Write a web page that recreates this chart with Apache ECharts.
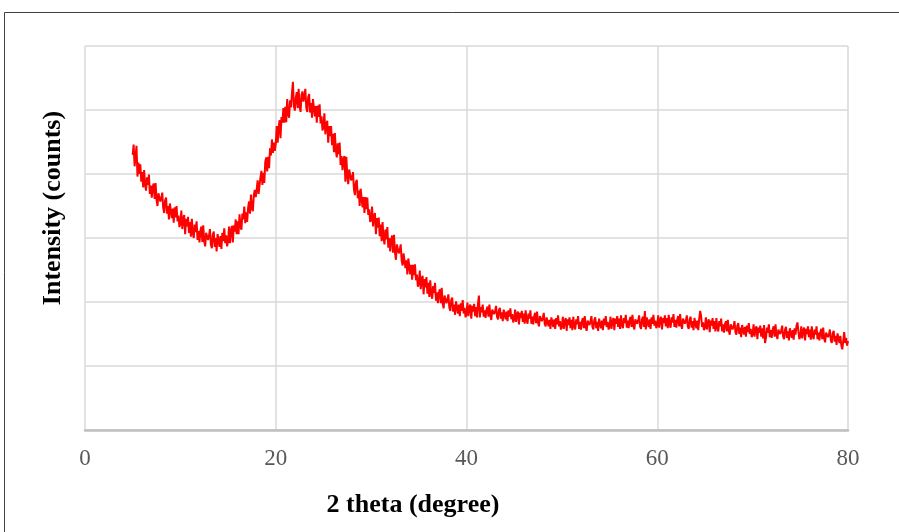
<!DOCTYPE html>
<html>
<head>
<meta charset="utf-8">
<script src="https://cdn.jsdelivr.net/npm/echarts@6/dist/echarts.min.js"></script>
<style>
  html, body { margin: 0; padding: 0; background: #ffffff; }
  #chart { width: 899px; height: 532px; }
</style>
</head>
<body>
<div id="chart"></div>
<script>
// XRD scan: 2θ from 5° to 80° in 0.1° steps
const thetaStart = 5;
const thetaStep = 0.1;

// Measured intensity (counts), one row per degree
const counts = [
  430, 446, 412, 426, 444, 396, 418, 400, 415, 388,
  403, 379, 406, 383, 374, 395, 383, 399, 369, 382,
  363, 380, 385, 361, 386, 360, 350, 370, 373, 357,
  362, 371, 347, 339, 359, 363, 338, 350, 329, 354,
  356, 331, 346, 324, 348, 332, 350, 326, 335, 317,
  323, 343, 314, 330, 336, 306, 330, 318, 333, 308,
  325, 302, 330, 308, 300, 321, 309, 326, 297, 311,
  293, 311, 318, 294, 320, 295, 287, 308, 311, 297,
  303, 314, 290, 284, 305, 310, 286, 300, 279, 306,
  309, 286, 303, 283, 308, 295, 315, 292, 304, 287,
  295, 318, 292, 311, 319, 293, 320, 310, 329, 306,
  326, 306, 337, 318, 313, 338, 329, 349, 323, 340,
  325, 347, 357, 338, 368, 347, 342, 367, 375, 364,
  375, 390, 369, 368, 395, 405, 383, 402, 386, 419,
  426, 404, 427, 409, 440, 429, 454, 433, 449, 436,
  447, 475, 449, 472, 484, 456, 489, 480, 503, 480,
  505, 481, 517, 494, 488, 515, 504, 527, 544, 506,
  499, 519, 528, 503, 533, 507, 497, 523, 529, 513,
  521, 533, 504, 497, 520, 525, 496, 511, 488, 517,
  519, 490, 506, 480, 507, 489, 509, 479, 490, 468,
  474, 495, 462, 478, 483, 449, 475, 459, 475, 445,
  463, 434, 464, 437, 426, 448, 431, 449, 414, 428,
  406, 423, 428, 388, 427, 397, 384, 407, 409, 390,
  395, 403, 376, 367, 387, 391, 362, 374, 350, 377,
  377, 348, 364, 339, 364, 345, 363, 336, 345, 325,
  329, 349, 318, 334, 339, 306, 331, 316, 332, 303,
  321, 295, 325, 300, 290, 313, 298, 317, 285, 300,
  279, 297, 304, 277, 305, 277, 266, 290, 292, 276,
  281, 290, 265, 257, 276, 279, 253, 265, 243, 268,
  269, 243, 258, 235, 258, 242, 259, 234, 243, 224,
  229, 249, 220, 236, 241, 212, 236, 223, 239, 213,
  230, 208, 234, 213, 205, 225, 214, 230, 202, 215,
  198, 214, 220, 198, 222, 198, 190, 210, 212, 198,
  204, 212, 191, 186, 203, 207, 185, 196, 180, 201,
  203, 182, 196, 178, 198, 186, 203, 182, 191, 176,
  182, 199, 178, 191, 196, 174, 194, 185, 197, 178,
  192, 176, 197, 210, 176, 192, 184, 196, 177, 187,
  175, 188, 193, 177, 196, 179, 172, 188, 191, 181,
  186, 194, 177, 173, 187, 191, 174, 184, 170, 188,
  190, 173, 185, 170, 187, 177, 190, 173, 181, 168,
  173, 188, 169, 181, 185, 165, 183, 175, 186, 169,
  182, 166, 187, 172, 166, 182, 174, 187, 166, 177,
  165, 178, 183, 167, 185, 168, 162, 178, 180, 170,
  175, 183, 166, 162, 176, 179, 162, 172, 158, 176,
  178, 161, 173, 158, 175, 165, 179, 162, 170, 157,
  162, 177, 158, 170, 175, 155, 173, 164, 176, 159,
  172, 156, 177, 162, 157, 173, 165, 178, 158, 169,
  157, 170, 175, 159, 178, 161, 155, 171, 174, 164,
  170, 178, 161, 157, 172, 176, 159, 169, 155, 174,
  176, 159, 171, 156, 174, 164, 178, 161, 169, 157,
  162, 177, 158, 170, 175, 156, 174, 166, 178, 161,
  174, 158, 179, 164, 159, 175, 167, 180, 160, 171,
  159, 172, 177, 161, 180, 163, 157, 173, 176, 166,
  171, 179, 162, 158, 173, 177, 161, 186, 157, 176,
  178, 161, 173, 158, 176, 166, 180, 163, 171, 159,
  164, 179, 160, 172, 177, 157, 175, 167, 179, 162,
  175, 159, 180, 165, 160, 176, 168, 181, 161, 172,
  160, 173, 178, 162, 181, 164, 158, 174, 177, 166,
  171, 179, 162, 158, 173, 177, 160, 170, 156, 175,
  176, 159, 171, 156, 174, 186, 178, 161, 168, 156,
  161, 176, 157, 168, 173, 153, 171, 163, 175, 158,
  170, 154, 175, 160, 154, 170, 162, 174, 154, 165,
  152, 165, 170, 154, 172, 155, 149, 165, 167, 157,
  162, 170, 153, 149, 163, 167, 150, 160, 145, 164,
  166, 149, 161, 146, 163, 153, 167, 150, 158, 145,
  150, 165, 146, 158, 162, 142, 160, 152, 163, 146,
  159, 143, 164, 136, 144, 160, 152, 165, 145, 156,
  144, 157, 162, 146, 165, 148, 142, 157, 160, 150,
  155, 163, 146, 142, 157, 161, 144, 154, 140, 159,
  161, 144, 156, 141, 159, 149, 163, 168, 154, 142,
  147, 162, 143, 155, 160, 140, 158, 150, 162, 145,
  157, 141, 162, 147, 142, 157, 149, 162, 142, 152,
  140, 153, 158, 142, 160, 143, 137, 152, 155, 145,
  149, 157, 140, 136, 151, 155, 138, 147, 133, 151,
  153, 136, 147, 132, 126, 139, 153, 136, 144, 132,
  139
];

// Axis ranges
const xRange = { min: 0, max: 80, interval: 20 };
const yRange = { min: 0, max: 600, interval: 100 };

const xTitle = '2 theta (degree)';
const yTitle = 'Intensity (counts)';

const points = counts.map((c, i) => [+(thetaStart + i * thetaStep).toFixed(1), c]);

const chart = echarts.init(document.getElementById('chart'), null, { renderer: 'canvas' });

const gridColor = '#d9d9d9';
const serif = '"Liberation Serif", "Times New Roman", serif';

chart.setOption({
  animation: false,
  backgroundColor: '#ffffff',
  grid: { left: 85, right: 51, top: 46, bottom: 102, containLabel: false },
  xAxis: {
    type: 'value',
    min: xRange.min,
    max: xRange.max,
    interval: xRange.interval,
    axisLine: { show: true, lineStyle: { color: '#bfbfbf', width: 2.5 } },
    axisTick: { show: false },
    axisLabel: { color: '#595959', fontFamily: serif, fontSize: 23, margin: 17 },
    splitLine: { show: true, lineStyle: { color: gridColor, width: 1.5 } }
  },
  yAxis: {
    type: 'value',
    min: yRange.min,
    max: yRange.max,
    interval: yRange.interval,
    axisLine: { show: false },
    axisTick: { show: false },
    axisLabel: { show: false },
    splitLine: { show: true, lineStyle: { color: gridColor, width: 1.5 } }
  },
  series: [{
    type: 'line',
    data: points,
    showSymbol: false,
    symbol: 'none',
    lineStyle: { color: '#ff0000', width: 2 },
    z: 5
  }],
  graphic: [
    {
      type: 'rect',
      shape: { x: 4.5, y: 12.5, width: 920, height: 540 },
      style: { fill: null, stroke: '#404040', lineWidth: 1 },
      silent: true,
      z: 100
    },
    {
      type: 'text',
      x: 413,
      y: 505,
      style: {
        text: xTitle,
        font: 'bold 26px ' + serif,
        fill: '#000000',
        textAlign: 'center',
        textVerticalAlign: 'middle'
      }
    },
    {
      type: 'text',
      x: 53,
      y: 208,
      rotation: Math.PI / 2,
      style: {
        text: yTitle,
        font: 'bold 26px ' + serif,
        fill: '#000000',
        textAlign: 'center',
        textVerticalAlign: 'middle'
      }
    }
  ]
});
</script>
</body>
</html>
